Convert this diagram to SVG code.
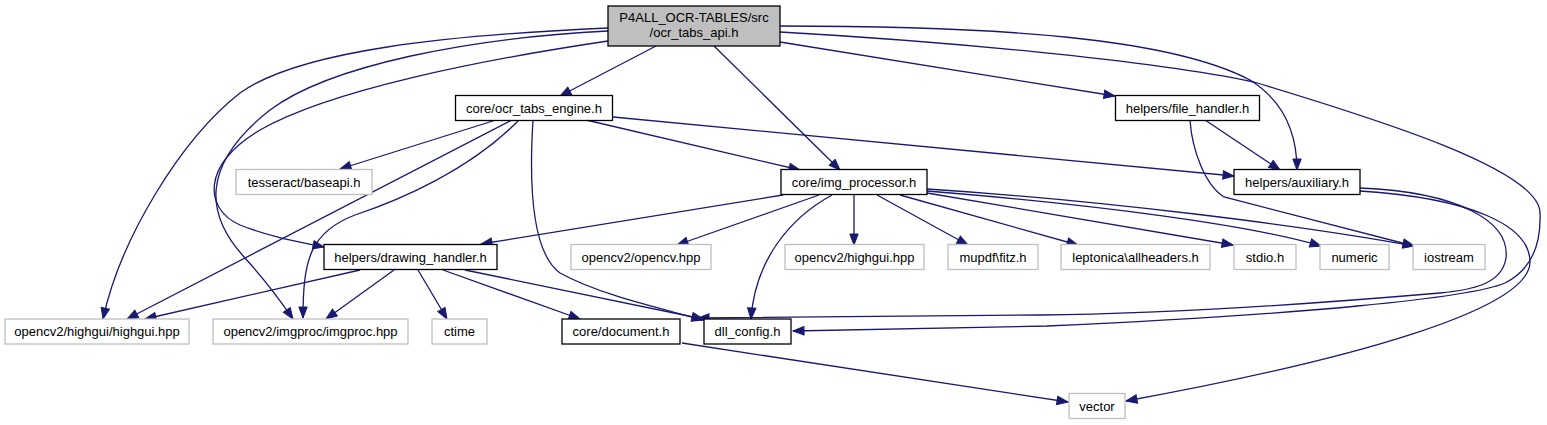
<svg xmlns="http://www.w3.org/2000/svg" width="1547" height="425" viewBox="0 0 1547 425">
<style>
.n rect{fill:#fff;stroke:#000;stroke-width:1.3}
.x rect{fill:#fff;stroke:#bfbfbf;stroke-width:1.3}
.r rect{fill:#bfbfbf;stroke:#000;stroke-width:1.3}
text{font-family:"Liberation Sans",Arial,sans-serif;font-size:13px;fill:#000;text-anchor:middle}
#edges path{fill:none;stroke:#191970;stroke-width:1.3;marker-end:url(#ah)}
</style>
<defs>
<marker id="ah" markerUnits="userSpaceOnUse" markerWidth="14" markerHeight="11" refX="12" refY="5" orient="auto" viewBox="0 0 14 11">
<path d="M1,0.8 L12,5 L1,9.2 z" fill="#191970" stroke="#191970" stroke-width="1"/>
</marker>
</defs>
<rect width="1547" height="425" fill="#fff"/>
<g id="edges">
<path d="M656,46 L560,96"/>
<path d="M714,46 L840,170"/>
<path d="M780,42 L1115,96"/>
<path d="M780,26 C1000,26 1170,38 1250,80 C1285,102 1297,135 1297,170"/>
<path d="M780,32 C940,41 1150,60 1254,82 C1380,120 1540,170 1540,213 C1541,240 1535,268 1505,283 C1470,298 1300,315 1047,326 L793,331"/>
<path d="M608,28 C450,35 300,50 240,93 C180,140 120,240 103,319"/>
<path d="M608,31 C470,38 330,65 270,110 C200,165 205,215 245,258 C265,280 280,300 293,319"/>
<path d="M608,41 C480,60 330,90 260,130 C200,165 205,210 240,225 C270,237 300,242 324,247"/>
<path d="M496,120 L340,169"/>
<path d="M512,120 L127,319"/>
<path d="M519,120 C470,170 400,200 355,215 C310,232 303,260 303,318"/>
<path d="M533,120 C528,200 535,255 560,273 C600,295 660,308 703,320"/>
<path d="M586,120 L800,170"/>
<path d="M613,117 L1234,176"/>
<path d="M360,270 L145,319"/>
<path d="M394,270 L326,319"/>
<path d="M418,270 L447,319"/>
<path d="M443,270 L580,319"/>
<path d="M465,270 L703,319"/>
<path d="M783,195 L481,244"/>
<path d="M819,195 L677,245"/>
<path d="M832,195 C790,218 755,260 751,319"/>
<path d="M854,195 L854,245"/>
<path d="M877,195 L968,245"/>
<path d="M900,195 L1078,245"/>
<path d="M927,193 L1233,245"/>
<path d="M927,191 C1100,205 1250,225 1321,246"/>
<path d="M927,189 C1100,200 1300,225 1414,246"/>
<path d="M1205,120 L1280,170"/>
<path d="M1190,120 C1192,150 1205,185 1224,197 L1414,246"/>
<path d="M1360,188 C1460,192 1510,222 1506,258 C1502,285 1470,290 1440,293 C1300,305 1150,314 1040,315 L698,318"/>
<path d="M1360,191 C1470,198 1530,225 1530,262 C1530,310 1350,360 1126,401"/>
<path d="M682,343 L1068,402"/>
</g>
<g id="root" class="r"><rect x="608" y="6" width="172" height="40"/><text x="694" y="21.5">P4ALL_OCR-TABLES/src</text><text x="694" y="36.5">/ocr_tabs_api.h</text></g>
<g id="ocr_tabs_engine" class="n"><rect x="455.5" y="95.5" width="157" height="25"/><text x="534" y="112.5">core/ocr_tabs_engine.h</text></g>
<g id="file_handler" class="n"><rect x="1115.5" y="95.5" width="144" height="25"/><text x="1187.5" y="112.5">helpers/file_handler.h</text></g>
<g id="tesseract" class="x"><rect x="236" y="169.5" width="136" height="25"/><text x="304" y="186.5">tesseract/baseapi.h</text></g>
<g id="img_processor" class="n"><rect x="781" y="169.5" width="146" height="25"/><text x="854" y="186.5">core/img_processor.h</text></g>
<g id="auxiliary" class="n"><rect x="1234" y="169.5" width="126" height="25"/><text x="1297" y="186.5">helpers/auxiliary.h</text></g>
<g id="drawing_handler" class="n"><rect x="324" y="244.5" width="173" height="25"/><text x="410.5" y="261.5">helpers/drawing_handler.h</text></g>
<g id="opencv" class="x"><rect x="571" y="244.5" width="140" height="25"/><text x="641" y="261.5">opencv2/opencv.hpp</text></g>
<g id="highgui" class="x"><rect x="785" y="244.5" width="139" height="25"/><text x="854.5" y="261.5">opencv2/highgui.hpp</text></g>
<g id="mupdf" class="x"><rect x="948" y="244.5" width="90" height="25"/><text x="993" y="261.5">mupdf\fitz.h</text></g>
<g id="leptonica" class="x"><rect x="1061" y="244.5" width="149" height="25"/><text x="1135.5" y="261.5">leptonica\allheaders.h</text></g>
<g id="stdio" class="x"><rect x="1234" y="244.5" width="62" height="25"/><text x="1265" y="261.5">stdio.h</text></g>
<g id="numeric" class="x"><rect x="1320" y="244.5" width="69" height="25"/><text x="1354.5" y="261.5">numeric</text></g>
<g id="iostream" class="x"><rect x="1413" y="244.5" width="72" height="25"/><text x="1449" y="261.5">iostream</text></g>
<g id="highgui_highgui" class="x"><rect x="5" y="319" width="184" height="25"/><text x="97" y="336">opencv2/highgui/highgui.hpp</text></g>
<g id="imgproc" class="x"><rect x="213" y="319" width="195" height="25"/><text x="310.5" y="336">opencv2/imgproc/imgproc.hpp</text></g>
<g id="ctime" class="x"><rect x="432" y="319" width="55" height="25"/><text x="459.5" y="336">ctime</text></g>
<g id="document" class="n"><rect x="562" y="319" width="118" height="25"/><text x="621" y="336">core/document.h</text></g>
<g id="dll_config" class="n"><rect x="704" y="319" width="87" height="25"/><text x="747.5" y="336">dll_config.h</text></g>
<g id="vector" class="x"><rect x="1069" y="393.5" width="56" height="25"/><text x="1097" y="410.5">vector</text></g>
</svg>
